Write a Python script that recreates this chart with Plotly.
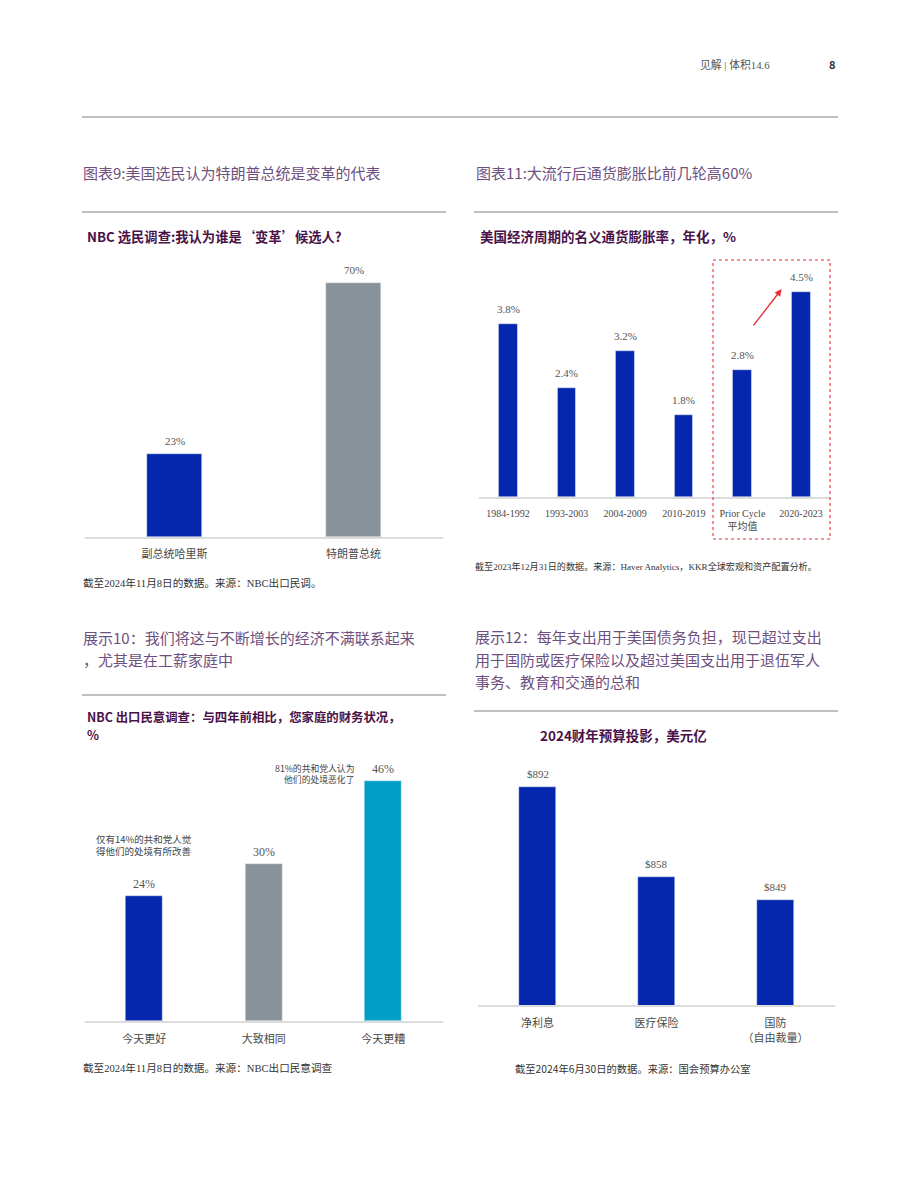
import plotly.graph_objects as go

W, H = 920, 1191

# ---------------- data ----------------
c9_cats = ["副总统哈里斯", "特朗普总统"]
c9_vals = [23, 70]
c9_labels = ["23%", "70%"]

c11_cats = ["1984-1992", "1993-2003", "2004-2009", "2010-2019", "Prior Cycle<br>平均值", "2020-2023"]
c11_vals = [3.8, 2.4, 3.2, 1.8, 2.8, 4.5]
c11_labels = ["3.8%", "2.4%", "3.2%", "1.8%", "2.8%", "4.5%"]

c10_cats = ["今天更好", "大致相同", "今天更糟"]
c10_vals = [24, 30, 46]
c10_labels = ["24%", "30%", "46%"]

c12_cats = ["净利息", "医疗保险", "国防<br>（自由裁量）"]
c12_vals = [892, 858, 849]
c12_labels = ["$892", "$858", "$849"]

# ---------------- styles ----------------
BLUE = "#0527AE"
GRAY = "#87929A"
TEAL = "#00A0C6"
TITLE_C = "#6E5080"
SUB_C = "#4A1248"
RULE_C = "#A9ACB1"
BASE_C = "#DCDCDC"
SANS = "Noto Sans CJK SC, Noto Sans, sans-serif"
SERIF = "Liberation Serif, DejaVu Serif, Noto Sans CJK SC, serif"


def X(px):
    return px / W


def Y(py):
    return 1 - py / H


fig = go.Figure()

fig.add_trace(go.Bar(x=c9_cats, y=c9_vals, marker_color=[BLUE, GRAY], width=0.31,
                     xaxis="x", yaxis="y", hoverinfo="skip"))
fig.add_trace(go.Bar(x=c11_cats, y=c11_vals, marker_color=BLUE, width=0.32,
                     xaxis="x2", yaxis="y2", hoverinfo="skip"))
fig.add_trace(go.Bar(x=c10_cats, y=c10_vals, marker_color=[BLUE, GRAY, TEAL], width=0.31,
                     xaxis="x3", yaxis="y3", hoverinfo="skip"))
fig.add_trace(go.Bar(x=c12_cats, y=c12_vals, marker_color=BLUE, width=0.31,
                     xaxis="x4", yaxis="y4", hoverinfo="skip"))


def xax(domain, font, size, standoff, anchor):
    return dict(domain=domain, showline=True, linecolor=BASE_C, linewidth=2,
                ticks="", showgrid=False, zeroline=False, fixedrange=True,
                tickfont=dict(family=font, size=size, color="#4a4a4a"),
                ticklabelstandoff=standoff, anchor=anchor)


def yax(domain, rng, anchor):
    return dict(domain=domain, range=rng, visible=False, showgrid=False,
                zeroline=False, anchor=anchor, fixedrange=True)


fig.update_layout(
    width=W, height=H, margin=dict(l=0, r=0, t=0, b=0),
    paper_bgcolor="white", plot_bgcolor="white", showlegend=False,
    bargap=0,
    xaxis=xax([X(85), X(443)], SANS, 11, 6, "y"),
    yaxis=yax([Y(537), Y(262)], [0, 275 / 3.63], "x"),
    xaxis2=xax([X(478.7), X(830.3)], SERIF, 10, 6, "y2"),
    yaxis2=yax([Y(497), Y(262)], [0, 235 / 45.5], "x2"),
    xaxis3=xax([X(84.5), X(443)], SANS, 11, 7, "y3"),
    yaxis3=yax([Y(1021), Y(760)], [0, 261 / 5.22], "x3"),
    xaxis4=xax([X(478), X(835)], SANS, 11, 7, "y4"),
    yaxis4=yax([Y(1005), Y(760)], [809.2, 809.2 + 245 / 2.633], "x4"),
)

ann = []


def txt(x, y, text, size, color, font=SANS, xanchor="left", align="left"):
    ann.append(dict(x=X(x), y=Y(y), xref="paper", yref="paper", text=text,
                    showarrow=False, xanchor=xanchor, yanchor="middle", align=align,
                    font=dict(family=font, size=size, color=color)))


def vlabels(cats, vals, labels, xr, yr, size, shift):
    for c, v, t in zip(cats, vals, labels):
        ann.append(dict(x=c, y=v, xref=xr, yref=yr, text=t, showarrow=False,
                        yanchor="bottom", yshift=shift,
                        font=dict(family=SERIF, size=size, color="#555")))


vlabels(c9_cats, c9_vals, c9_labels, "x", "y", 11, 5)
vlabels(c11_cats, c11_vals, c11_labels, "x2", "y2", 11, 7)
vlabels(c10_cats, c10_vals, c10_labels, "x3", "y3", 12, 3)
vlabels(c12_cats, c12_vals, c12_labels, "x4", "y4", 11, 5)

# header
txt(772, 64, "见解 | 体积14.6", 10.8, "#555", SERIF, xanchor="right")
txt(838, 64, "<b>8</b>", 11, "#333", SANS, xanchor="right")

# titles
txt(81, 173, "图表9:美国选民认为特朗普总统是变革的代表", 15, TITLE_C)
txt(474, 173, "图表11:大流行后通货膨胀比前几轮高60%", 15, TITLE_C)
txt(81, 637, "展示10：我们将这与不断增长的经济不满联系起来", 15, TITLE_C)
txt(81, 659, "，尤其是在工薪家庭中", 15, TITLE_C)
txt(473, 636, "展示12：每年支出用于美国债务负担，现已超过支出", 15, TITLE_C)
txt(473, 659, "用于国防或医疗保险以及超过美国支出用于退伍军人", 15, TITLE_C)
txt(473, 681, "事务、教育和交通的总和", 15, TITLE_C)

# subtitles
txt(85, 236, "<b>NBC 选民调查:我认为谁是‘变革’候选人?</b>", 13.3, SUB_C)
txt(478, 236, "<b>美国经济周期的名义通货膨胀率，年化，%</b>", 13.5, SUB_C)
txt(85, 717, "<b>NBC 出口民意调查：与四年前相比，您家庭的财务状况，</b>", 12.4, SUB_C)
txt(85, 735, "<b>%</b>", 12.4, SUB_C)
txt(623, 735, "<b>2024财年预算投影，美元亿</b>", 13.5, SUB_C, xanchor="center")

# footnotes
txt(81, 583, "截至2024年11月8日的数据。来源：NBC出口民调。", 10.6, "#333", SERIF)
txt(473, 566, "截至2023年12月31日的数据。来源：Haver Analytics，KKR全球宏观和资产配置分析。", 9.1, "#333", SERIF)
txt(81, 1068, "截至2024年11月8日的数据。来源：NBC出口民意调查", 10.6, "#333", SERIF)
txt(513, 1068, "截至2024年6月30日的数据。来源：国会预算办公室", 10.3, "#333", SANS)

# chart 10 notes
ann.append(dict(x=c10_cats[0], y=c10_vals[0], xref="x3", yref="y3", yanchor="bottom",
                yshift=36, showarrow=False, align="left",
                text="仅有14%的共和党人觉<br>得他们的处境有所改善",
                font=dict(family=SANS, size=9.5, color="#444")))
ann.append(dict(x=c10_cats[2], y=c10_vals[2], xref="x3", yref="y3", yanchor="bottom",
                xanchor="right", xshift=-27, yshift=-7, showarrow=False, align="right",
                text="81%的共和党人认为<br>他们的处境恶化了",
                font=dict(family=SANS, size=8.8, color="#444")))

# red arrow in chart 11
ann.append(dict(x=4.67, y=4.57, ax=4.17, ay=3.74, xref="x2", yref="y2",
                axref="x2", ayref="y2", showarrow=True, arrowhead=2, arrowsize=1,
                arrowwidth=1.4, arrowcolor="#E8303A", text=""))

fig.update_layout(annotations=ann)

shapes = []


def hline(x0, x1, y, color=RULE_C, width=1.3):
    shapes.append(dict(type="line", xref="paper", yref="paper", x0=X(x0), x1=X(x1),
                       y0=Y(y), y1=Y(y), line=dict(color=color, width=width)))


hline(82, 838, 117)
hline(82, 446, 212)
hline(474, 838, 212)
hline(82, 446, 695)
hline(474, 838, 711)
shapes.append(dict(type="rect", xref="paper", yref="paper", x0=X(713), x1=X(830),
                   y0=Y(539), y1=Y(260), line=dict(color="#E8303A", width=1.1, dash="dot")))
fig.update_layout(shapes=shapes)

fig.write_html("out.html")
